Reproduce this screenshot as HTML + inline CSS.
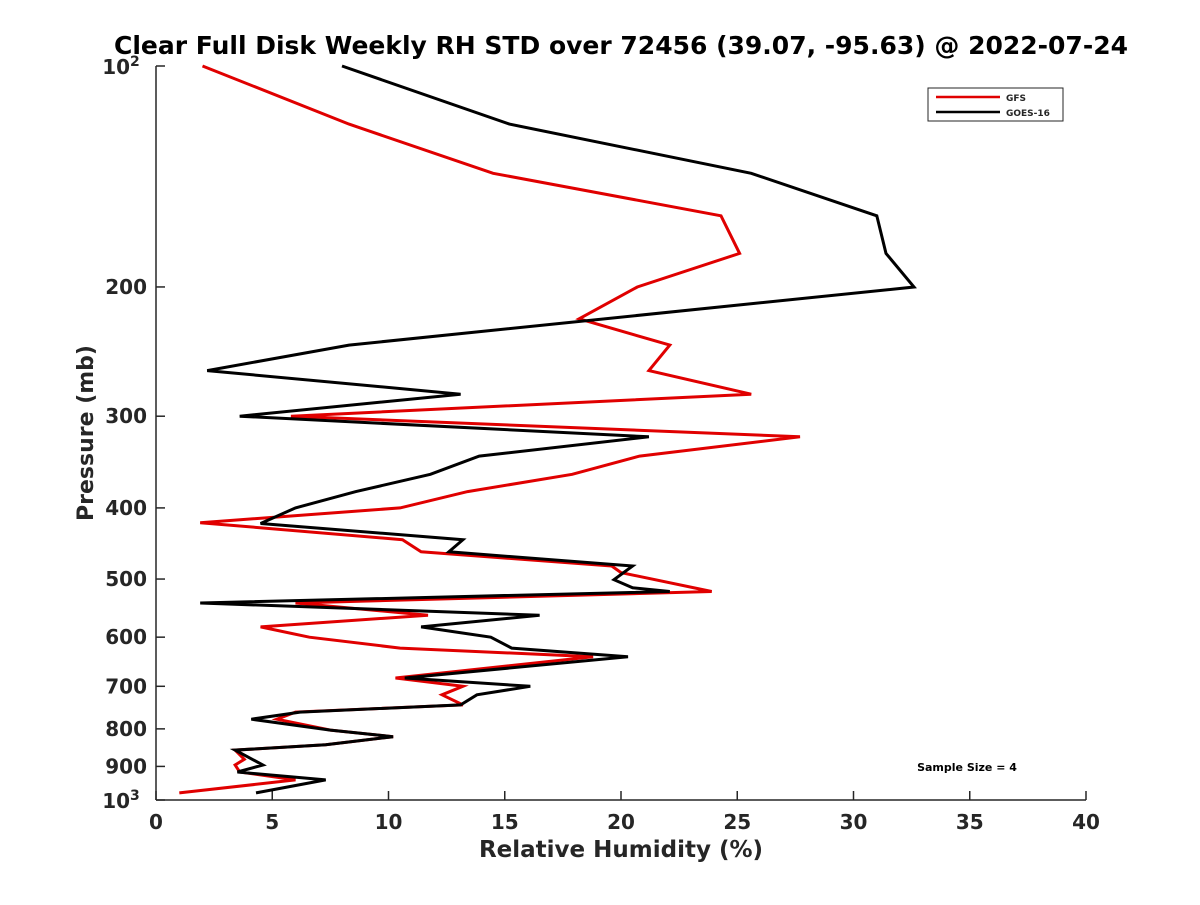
<!DOCTYPE html>
<html><head><meta charset="utf-8"><style>
body{margin:0;background:#fff;}
svg text{font-family:"DejaVu Sans","Liberation Sans",sans-serif;font-weight:bold;fill:#262626;}
</style></head><body>
<svg id="chart" width="1200" height="900" xmlns="http://www.w3.org/2000/svg">
<rect width="1200" height="900" fill="#fff"/>
<text x="621" y="54" font-size="25" text-anchor="middle" style="fill:#000">Clear Full Disk Weekly RH STD over 72456 (39.07, -95.63) @ 2022-07-24</text>
<g id="axes"></g>
<g id="series"></g>
<g>
<rect x="928" y="88" width="135" height="33" fill="#fff" stroke="#262626" stroke-width="1"/>
<line x1="936" y1="97" x2="1000" y2="97" stroke="#e00000" stroke-width="2.5"/>
<text x="1006" y="101" font-size="9">GFS</text>
<line x1="936" y1="112" x2="1000" y2="112" stroke="#000" stroke-width="2.5"/>
<text x="1006" y="116" font-size="9">GOES-16</text>
</g>
<text x="967" y="771" font-size="11" text-anchor="middle" style="fill:#000">Sample Size = 4</text>
<text x="621" y="857" font-size="23" text-anchor="middle">Relative Humidity (%)</text>
<text x="0" y="0" font-size="22" text-anchor="middle" transform="translate(93,433) rotate(-90)">Pressure (mb)</text>
</svg>
<script>
const xTicks=[0,5,10,15,20,25,30,35,40];
const yTickVals=[200,300,400,500,600,700,800,900];
const goesP=[100,120,140,160,180,200,240,260,280,300,320,340,360,380,400,420,442,459,480,501,514,520,539,560,581,600,621,638,682,700,719,742,759,776,803,820,841,855,896,916,939,978];
const goesRH=[8.0,15.2,25.6,31.0,31.4,32.6,8.3,2.2,13.1,3.6,21.2,13.9,11.8,8.6,6.0,4.5,13.2,12.6,20.5,19.7,20.5,22.1,1.9,16.5,11.4,14.4,15.3,20.3,10.7,16.1,13.8,13.1,6.2,4.1,7.5,10.2,7.3,3.4,4.6,3.5,7.3,4.3];
const gfsP=[100,120,140,160,180,200,221,240,260,280,300,320,340,360,380,400,419,442,459,480,490,520,539,560,581,600,621,638,682,700,719,742,759,776,803,820,841,855,880,896,916,939,978];
const gfsRH=[2.0,8.3,14.5,24.3,25.1,20.7,18.2,22.1,21.2,25.6,5.8,27.7,20.8,17.9,13.4,10.5,1.9,10.6,11.4,19.6,20.0,23.9,6.0,11.7,4.5,6.6,10.5,18.8,10.3,13.2,12.3,13.2,6.0,5.2,7.5,10.2,7.3,3.4,3.8,3.4,3.6,6.0,1.0];
const X0=156,X1=1086,Y0=66,Y1=800;
const xs=v=>X0+(v-0)/40*(X1-X0);
const ys=p=>Y0+Math.log10(p/100)*(Y1-Y0);
const NS="http://www.w3.org/2000/svg";
const ax=document.getElementById('axes'),sr=document.getElementById('series');
function mk(tag,attrs,parent){const e=document.createElementNS(NS,tag);for(const k in attrs)e.setAttribute(k,attrs[k]);parent.appendChild(e);return e;}
const xl=mk('line',{x1:X0,y1:Y1,x2:X1,y2:Y1,stroke:'#262626','stroke-width':1.5},ax);


const yl=mk('line',{x1:X0,y1:Y0,x2:X0,y2:Y1,stroke:'#262626','stroke-width':1.5},ax);


xTicks.forEach(v=>{
  const t=mk('line',{x1:xs(v),y1:Y1,x2:xs(v),y2:Y1-9,stroke:'#262626','stroke-width':1.5},ax);
  
  
  const l=mk('text',{x:xs(v),y:Y1+29,'font-size':20,'text-anchor':'middle'},ax);l.textContent=v;
  
  
});
[100].concat(yTickVals,[1000]).forEach(p=>{
  const t=mk('line',{x1:X0,y1:ys(p),x2:X0+9,y2:ys(p),stroke:'#262626','stroke-width':1.5},ax);
  
  
});
yTickVals.forEach(p=>{
  const l=mk('text',{x:X0-9,y:ys(p)+7,'font-size':20,'text-anchor':'end'},ax);l.textContent=p;
  
  
});
[[100,'2'],[1000,'3']].forEach(([p,e])=>{
  const l=mk('text',{x:X0-35,y:ys(p)+8,'font-size':20,'text-anchor':'middle'},ax);
  l.innerHTML='10<tspan dy="-8" font-size="14">'+e+'</tspan>';
  
  
});
function line(P,V,color,name){
  const d=P.map((p,i)=>(i?'L':'M')+xs(V[i]).toFixed(1)+','+ys(p).toFixed(1)).join('');
  const e=mk('path',{d:d,fill:'none',stroke:color,'stroke-width':3,'stroke-linejoin':'miter'},sr);
  
  
}
line(gfsP,gfsRH,'#e00000','gfs-line');
line(goesP,goesRH,'#000','goes16-line');
</script>
</body></html>
